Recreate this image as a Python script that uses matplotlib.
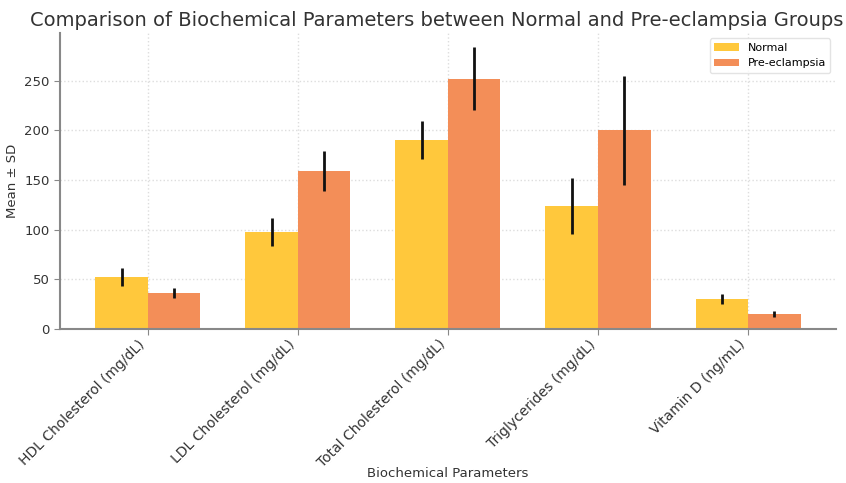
import matplotlib
matplotlib.use("Agg")
import matplotlib.pyplot as plt
import numpy as np

categories = ["HDL Cholesterol (mg/dL)", "LDL Cholesterol (mg/dL)",
              "Total Cholesterol (mg/dL)", "Triglycerides (mg/dL)", "Vitamin D (ng/mL)"]
normal_mean = [52, 98, 190, 124, 30]
normal_sd = [9, 14, 19, 28, 5]
pre_mean = [36, 159, 252, 200, 15]
pre_sd = [5, 20, 32, 55, 3]

fig = plt.figure(figsize=(8.46, 4.83), dpi=100)
ax = fig.add_axes([0.071, 0.319, 0.917, 0.613])

x = np.arange(len(categories))
w = 0.35
ax.bar(x - w/2, normal_mean, w, yerr=normal_sd, color="#FFC83C", label="Normal",
       error_kw=dict(ecolor="#111111", elinewidth=2, capsize=0), zorder=2)
ax.bar(x + w/2, pre_mean, w, yerr=pre_sd, color="#F38E58", label="Pre-eclampsia",
       error_kw=dict(ecolor="#111111", elinewidth=2, capsize=0), zorder=2)

ax.set_xticks(x)
ax.set_xticklabels(categories, rotation=45, ha="right",
                   fontsize=10, color="#333333")
ax.tick_params(axis="y", labelsize=9.5, labelcolor="#333333", color="#888888", length=4)
ax.tick_params(axis="x", color="#888888", length=4, pad=2)
ax.set_yticks([0, 50, 100, 150, 200, 250])
ax.grid(True, linestyle=":", color="#dddddd", linewidth=1, zorder=0)
ax.set_axisbelow(True)
for s in ["top", "right"]:
    ax.spines[s].set_visible(False)
for s in ["left", "bottom"]:
    ax.spines[s].set_color("#888888")
    ax.spines[s].set_linewidth(1.5)

fig.text(0.516, 0.958, "Comparison of Biochemical Parameters between Normal and Pre-eclampsia Groups",
         fontsize=14, color="#333333", ha="center", va="center")
ax.set_ylabel("Mean ± SD", fontsize=9.5, color="#333333")
ax.set_xlabel("Biochemical Parameters", fontsize=9.5, color="#333333")
ax.xaxis.set_label_coords(0.5, -0.465)
ax.legend(loc="upper right", fontsize=8, frameon=True, edgecolor="#dddddd",
          handlelength=2.2)

fig.savefig("out.png", dpi=100)
